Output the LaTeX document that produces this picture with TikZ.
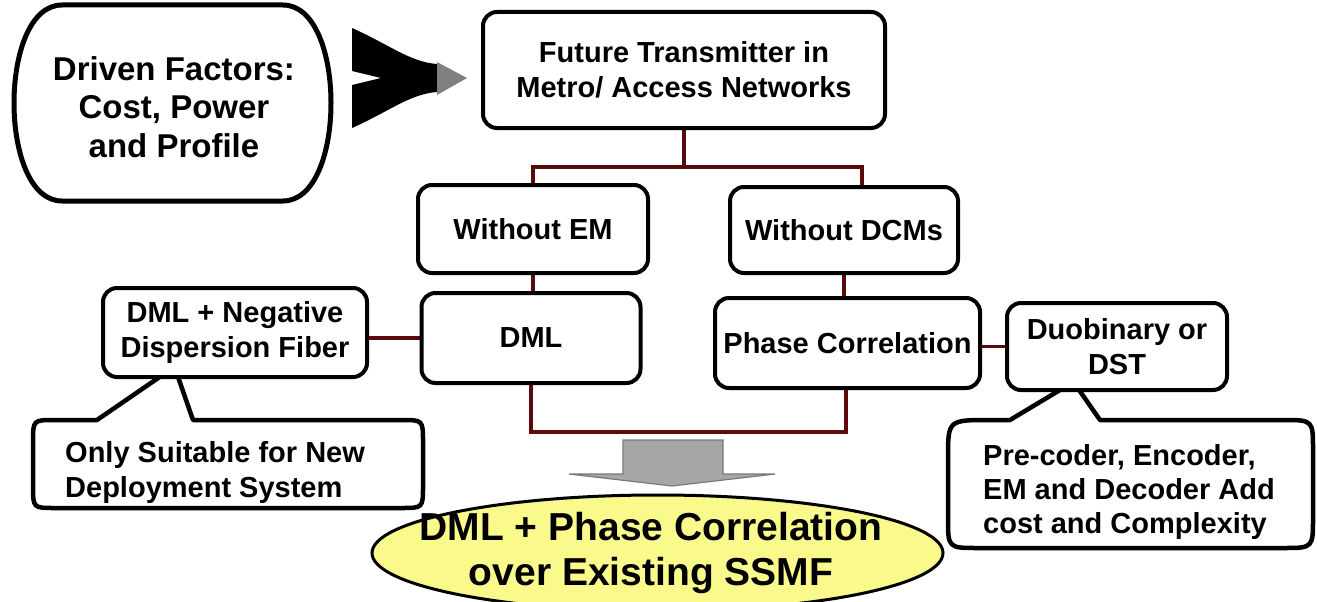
\documentclass[tikz,border=0pt]{standalone}
\usepackage{fontspec}
\setmainfont{Liberation Sans}
\usetikzlibrary{shapes.geometric,calc,backgrounds}
\definecolor{linkred}{RGB}{90,10,10}
\definecolor{resyellow}{RGB}{250,250,140}
\definecolor{arrowgray}{RGB}{166,166,166}
\definecolor{edgegray}{RGB}{120,120,120}
\definecolor{tipgray}{RGB}{128,128,128}
\begin{document}
\begin{tikzpicture}[x=1pt,y=-1pt,
  txt/.style={font=\fontsize{29}{35}\selectfont\bfseries},
  box/.style={txt, draw, line width=4pt, rounded corners=14pt, fill=white, inner sep=0pt, align=center},
  link/.style={draw=linkred, line width=3.5pt},
  callout/.style={draw, line width=4.5pt, fill=white, line join=round},
  ctext/.style={txt, inner sep=0pt, align=left}]
\useasboundingbox (0,0) rectangle (1317,602);

% Driven factors
\draw[line width=5pt, fill=white] (62,5) -- (283,5) .. controls (347,5) and (347,201) .. (283,201) -- (62,201) .. controls (-2,201) and (-2,5) .. (62,5) -- cycle;
\node[font=\fontsize{33}{38.5}\selectfont\bfseries, align=center, inner sep=0pt] (drv) at (174,107) {Driven Factors:\\Cost, Power\\and Profile};

% black swallowtail arrow
\fill[black] (352,28) .. controls (390,45) and (410,62) .. (437,64) -- (437,92) .. controls (410,94) and (390,111) .. (352,128) -- (352,85) -- (381,78) -- (352,71) -- cycle;
\fill[tipgray] (437,62) -- (467,78) -- (437,95) -- cycle;

% boxes
\node[box, minimum width=402pt, minimum height=116pt] (top) at (684,70) {Future Transmitter in\\Metro/ Access Networks};
\node[box, minimum width=230pt, minimum height=88pt] (woem) at (533,229) {Without EM};
\node[box, minimum width=228pt, minimum height=86pt] (wodcm) at (844,230) {Without DCMs};
\node[box, minimum width=264pt, minimum height=89pt] (neg) at (235,332.5) {DML + Negative\\Dispersion Fiber};
\node[box, minimum width=219pt, minimum height=90pt] (dml) at (531,338) {DML};
\node[box, minimum width=265pt, minimum height=90pt] (phase) at (847.5,343) {Phase Correlation};
\node[box, minimum width=220pt, minimum height=87pt] (duo) at (1117,346.5) {Duobinary or\\DST};

% callout texts
\node[ctext, anchor=west] (c1) at (65,472) {Only Suitable for New\\Deployment System};
\node[ctext, anchor=west, font=\fontsize{29}{34}\selectfont\bfseries] (c2) at (983,492) {Pre-coder, Encoder,\\EM and Decoder Add\\cost and Complexity};

% result ellipse
\node[draw, line width=3pt, fill=resyellow, ellipse, minimum width=571pt, minimum height=116pt, inner sep=0pt] (res) at (657.5,553) {};
\node[font=\fontsize{39}{45}\selectfont\bfseries, align=center, inner sep=0pt] (restext) at (651,553) {DML + Phase Correlation\\over Existing SSMF};

\begin{pgfonlayer}{background}
  % callouts
  \draw[callout] (193,420) -- (401,420) .. controls (423,420) .. (423,442) -- (423,486) .. controls (423,508) .. (401,508) -- (55,508) .. controls (33,508) .. (33,486) -- (33,442) .. controls (33,420) .. (55,420) -- (97,420) -- (164,374) -- (177,374) -- cycle;
  \draw[callout] (1100,420) -- (1283,420) .. controls (1313,420) .. (1313,450) -- (1313,518) .. controls (1313,548) .. (1283,548) -- (978,548) .. controls (948,548) .. (948,518) -- (948,458) .. controls (948,420) .. (990,420) -- (1010,420) -- (1065,387) -- (1077,387) -- cycle;
  % links
  \coordinate (bus) at (684,167);
  \draw[link] (top.south) -- (bus);
  \draw[link] (woem.north) |- (bus);
  \draw[link] (bus) -| ([xshift=18pt]wodcm.north);
  \draw[link] (woem.south) -- (woem.south |- dml.north);
  \draw[link] (wodcm.south) -- (wodcm.south |- phase.north);
  \draw[link] (dml.west -| neg.east) -- (dml.west);
  \draw[link] (duo.west -| phase.east) -- (duo.west);
  \coordinate (loop) at (690,432);
  \draw[link] (dml.south) |- (loop) -| ([xshift=-1.5pt]phase.south);
\end{pgfonlayer}

% grey block arrow
\draw[fill=arrowgray, draw=edgegray, line width=1.2pt, line join=miter] (623,440) -- (723,440) -- (723,474) -- (775,474) -- (672,486) -- (569,474) -- (623,474) -- cycle;
\end{tikzpicture}
\end{document}
